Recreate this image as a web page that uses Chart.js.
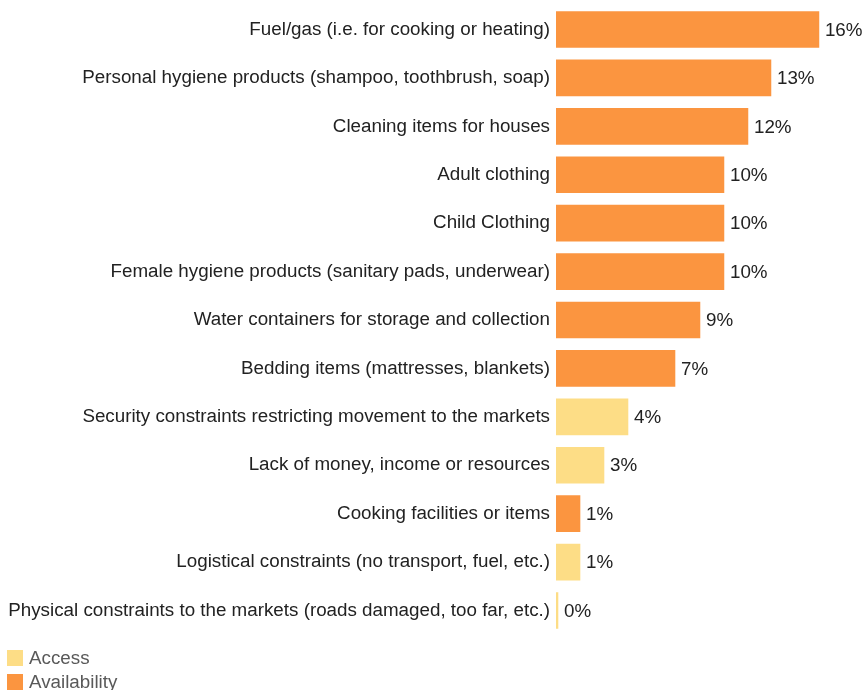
<!DOCTYPE html>
<html>
<head>
<meta charset="utf-8">
<script src="https://cdn.jsdelivr.net/npm/chart.js@4.4.1/dist/chart.umd.min.js"></script>
<style>
  html, body { margin: 0; padding: 0; background: #ffffff; }
  body { width: 864px; height: 690px; position: relative; overflow: hidden; font-family: "Liberation Sans", Arial, sans-serif; }
  #wrap { position: absolute; left: 0; top: -12px; width: 864px; height: 664px; }
  #legend { position: absolute; left: 7px; top: 646px; font-size: 18.8px; color: #595959; }
  .li { height: 24px; line-height: 24px; display: flex; align-items: center; }
  .sw { width: 16px; height: 16px; margin-right: 6px; }
</style>
</head>
<body>
<div id="wrap"><canvas id="c"></canvas></div>
<div id="legend"></div>
<script>
const categories = [
  "Fuel/gas (i.e. for cooking or heating)",
  "Personal hygiene products (shampoo, toothbrush, soap)",
  "Cleaning items for houses",
  "Adult clothing",
  "Child Clothing",
  "Female hygiene products (sanitary pads, underwear)",
  "Water containers for storage and collection",
  "Bedding items (mattresses, blankets)",
  "Security constraints restricting movement to the markets",
  "Lack of money, income or resources",
  "Cooking facilities or items",
  "Logistical constraints (no transport, fuel, etc.)",
  "Physical constraints to the markets (roads damaged, too far, etc.)"
];
const seriesNames = ["Access", "Availability"];
const accessValues = [null, null, null, null, null, null, null, null, 4.38, 2.92, null, 1.46, 0.12];
const availabilityValues = [16.0, 13.08, 11.68, 10.22, 10.22, 10.22, 8.76, 7.24, null, null, 1.46, null, null];
const valueLabels = ["16%", "13%", "12%", "10%", "10%", "10%", "9%", "7%", "4%", "3%", "1%", "1%", "0%"];
const seriesColors = ["#FDDD86", "#FB9540"];

const FONT = '"Liberation Sans", Arial, sans-serif';
const FSIZE = 18.8;

const valueLabelPlugin = {
  id: 'valueLabels',
  afterDatasetsDraw(chart) {
    const ctx = chart.ctx;
    ctx.save();
    ctx.font = FSIZE + 'px ' + FONT;
    ctx.fillStyle = '#222222';
    ctx.textAlign = 'left';
    ctx.textBaseline = 'middle';
    chart.data.datasets.forEach((ds, di) => {
      const meta = chart.getDatasetMeta(di);
      meta.data.forEach((bar, i) => {
        if (ds.data[i] === null || ds.data[i] === undefined) return;
        ctx.fillText(valueLabels[i], bar.x + 6, bar.y + 1);
      });
    });
    ctx.restore();
  }
};

const chart = new Chart(document.getElementById('c'), {
  type: 'bar',
  data: {
    labels: categories,
    datasets: [
      { label: seriesNames[0], data: accessValues, backgroundColor: seriesColors[0], barThickness: 36 },
      { label: seriesNames[1], data: availabilityValues, backgroundColor: seriesColors[1], barThickness: 36 }
    ]
  },
  options: {
    indexAxis: 'y',
    responsive: true,
    maintainAspectRatio: false,
    animation: false,
    layout: { padding: { top: 0, bottom: 0, right: 4, left: 0 } },
    plugins: { legend: { display: false }, tooltip: { enabled: false } },
    scales: {
      x: {
        stacked: true,
        display: false,
        min: 0,
        max: 18.5
      },
      y: {
        stacked: true,
        grid: { display: false, drawTicks: false },
        border: { display: false },
        ticks: {
          color: '#222222',
          font: { family: FONT, size: FSIZE },
          padding: 6,
          autoSkip: false
        },
        afterFit(scale) { scale.width = 556; }
      }
    }
  },
  plugins: [valueLabelPlugin]
});

const legendEl = document.getElementById('legend');
chart.data.datasets.forEach(ds => {
  const item = document.createElement('div');
  item.className = 'li';
  const sw = document.createElement('span');
  sw.className = 'sw';
  sw.style.background = ds.backgroundColor;
  const t = document.createElement('span');
  t.textContent = ds.label;
  item.appendChild(sw);
  item.appendChild(t);
  legendEl.appendChild(item);
});
</script>
</body>
</html>
